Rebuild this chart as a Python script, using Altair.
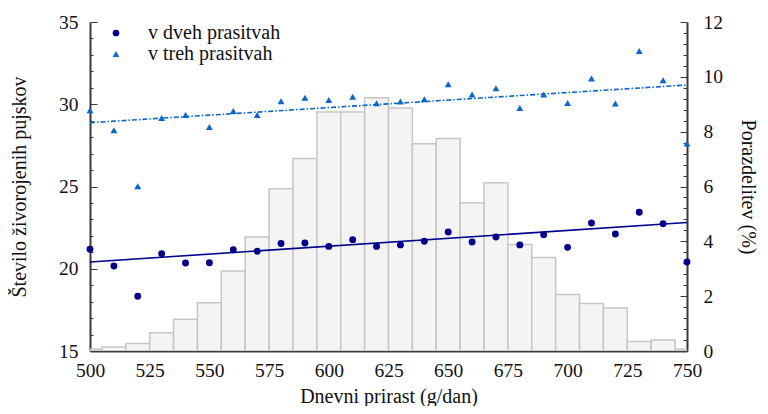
import altair as alt
import pandas as pd

# ---- data ----
bins = [500, 510, 520, 530, 540, 550, 560, 570, 580, 590, 600, 610, 620,
        630, 640, 650, 660, 670, 680, 690, 700, 710, 720, 730, 740, 750]
pct = [0.06, 0.15, 0.27, 0.67, 1.16, 1.76, 2.92, 4.16, 5.92, 7.02, 8.72, 8.72, 9.24,
       8.86, 7.56, 7.75, 5.41, 6.14, 3.88, 3.41, 2.06, 1.73, 1.57, 0.35, 0.40, 0.06]
dveh = [21.18, 20.17, 18.33, 20.92, 20.35, 20.37, 21.16, 21.06, 21.53, 21.57, 21.36, 21.77, 21.36,
        21.45, 21.67, 22.23, 21.63, 21.93, 21.45, 22.07, 21.30, 22.78, 22.11, 23.43, 22.74, 20.41]
treh = [29.63, 28.42, 25.01, 29.16, 29.35, 28.62, 29.59, 29.35, 30.18, 30.40, 30.26, 30.46, 30.06,
        30.16, 30.30, 31.21, 30.60, 30.97, 29.77, 30.59, 30.08, 31.56, 30.04, 33.24, 31.46, 27.61]
trend_x = [500, 750]
dveh_trend = [20.41, 22.81]
treh_trend = [28.88, 31.17]
series = ["v dveh prasitvah", "v treh prasitvah"]

left_labels = [15, 20, 25, 30, 35]
left_ticks = list(range(15, 36))
right_labels = [0, 2, 4, 6, 8, 10, 12]
right_ticks = [round(i * 0.4, 1) for i in range(31)]
x_labels = [500, 525, 550, 575, 600, 625, 650, 675, 700, 725, 750]

NAVY = "#00008b"
BLUE = "#0a66cc"
AX = "#3a3a3a"
FONT = "Times New Roman"
W, H = 597, 329

hist = pd.DataFrame({"x": bins, "pct": pct})
pts = pd.DataFrame({
    "x": bins * 2,
    "val": dveh + treh,
    "serija": [series[0]] * len(bins) + [series[1]] * len(bins),
})
tr_d = pd.DataFrame({"x": trend_x, "val": dveh_trend})
tr_t = pd.DataFrame({"x": trend_x, "val": treh_trend})

xscale = alt.Scale(domain=[500, 750], nice=False, zero=False)
xaxis = alt.Axis(values=x_labels, tickSize=0, labelPadding=10, domainColor=AX, domainWidth=2,
                 title="Dnevni prirast (g/dan)", titlePadding=7, grid=False, labelFlush=False,
                 labelFont=FONT, titleFont=FONT)
lscale = alt.Scale(domain=[15, 35], nice=False, zero=False)
rscale = alt.Scale(domain=[0, 12], nice=False, zero=False)

bars = alt.Chart(hist).transform_calculate(
    x0="datum.x - 5", x1="datum.x + 5"
).mark_bar(clip=True, fill="#f4f4f4", stroke="#c6c6c6", strokeWidth=1.5).encode(
    x=alt.X("x0:Q", scale=xscale, axis=xaxis),
    x2="x1:Q",
    y=alt.Y("pct:Q", scale=rscale,
            axis=alt.Axis(orient="right", values=right_labels, tickSize=0, labelPadding=16,
                          domainColor=AX, domainWidth=2, grid=False,
                          labelFont=FONT, titleFont=FONT,
                          title="Porazdelitev (%)", titleAngle=90, titlePadding=15)),
    y2=alt.datum(0),
)

bar_ticks = alt.Chart(hist).mark_point(opacity=0).encode(
    x=alt.X("x:Q", scale=xscale, axis=xaxis),
    y=alt.Y("pct:Q", scale=rscale,
            axis=alt.Axis(orient="left", offset=-W, labels=False, domain=False, grid=False,
                          values=right_ticks, title=None, tickColor=AX, tickWidth=1,
                          tickSize={"condition": {"test": "abs(datum.value/2 - round(datum.value/2)) < 0.01",
                                                  "value": 7}, "value": 4})),
)

line_d = alt.Chart(tr_d).mark_line(color=NAVY, strokeWidth=1.6).encode(
    x=alt.X("x:Q", scale=xscale, axis=xaxis),
    y=alt.Y("val:Q", scale=lscale,
            axis=alt.Axis(orient="left", values=left_labels, tickSize=0, labelPadding=12,
                          domainColor=AX, domainWidth=2, grid=False,
                          labelFont=FONT, titleFont=FONT,
                          title="Število živorojenih pujskov", titlePadding=29)),
)

line_t = alt.Chart(tr_t).mark_line(color=BLUE, strokeWidth=1.6, strokeDash=[5, 2, 1.5, 2]).encode(
    x=alt.X("x:Q", scale=xscale, axis=xaxis),
    y=alt.Y("val:Q", scale=lscale, axis=None),
)

leg = alt.Legend(title=None, orient="none", legendX=16, legendY=1, labelFont=FONT,
                 labelLimit=400, symbolSize=45, labelOffset=22, rowPadding=1, padding=0)
points = alt.Chart(pts).mark_point(filled=True, opacity=1, size=48).encode(
    x=alt.X("x:Q", scale=xscale, axis=xaxis),
    y=alt.Y("val:Q", scale=lscale,
            axis=alt.Axis(orient="right", offset=-W, labels=False, domain=False, grid=False,
                          values=left_ticks, title=None, tickColor=AX, tickWidth=1,
                          tickSize={"condition": {"test": "datum.value % 5 === 0", "value": 7},
                                    "value": 3})),
    color=alt.Color("serija:N", scale=alt.Scale(domain=series, range=[NAVY, BLUE]), legend=leg),
    shape=alt.Shape("serija:N", scale=alt.Scale(domain=series, range=["circle", "triangle-up"]),
                    legend=leg),
)

chart = alt.layer(bars, bar_ticks, line_d, line_t, points).resolve_scale(
    y="independent"
).properties(
    width=W, height=H,
    padding={"left": 82, "top": 14, "right": 73, "bottom": 55},
    autosize=alt.AutoSizeParams(type="none"),
).configure(font=FONT).configure_view(stroke=None).configure_axis(
    labelFont=FONT, titleFont=FONT, labelFontSize=19.5, titleFontSize=20,
    labelColor="#111", titleColor="#111", titleFontWeight="normal",
).configure_legend(
    labelFont=FONT, labelFontSize=20, labelColor="#111", symbolStrokeWidth=0,
)

chart.save("out.html", embed_options={"renderer": "svg", "actions": False})
